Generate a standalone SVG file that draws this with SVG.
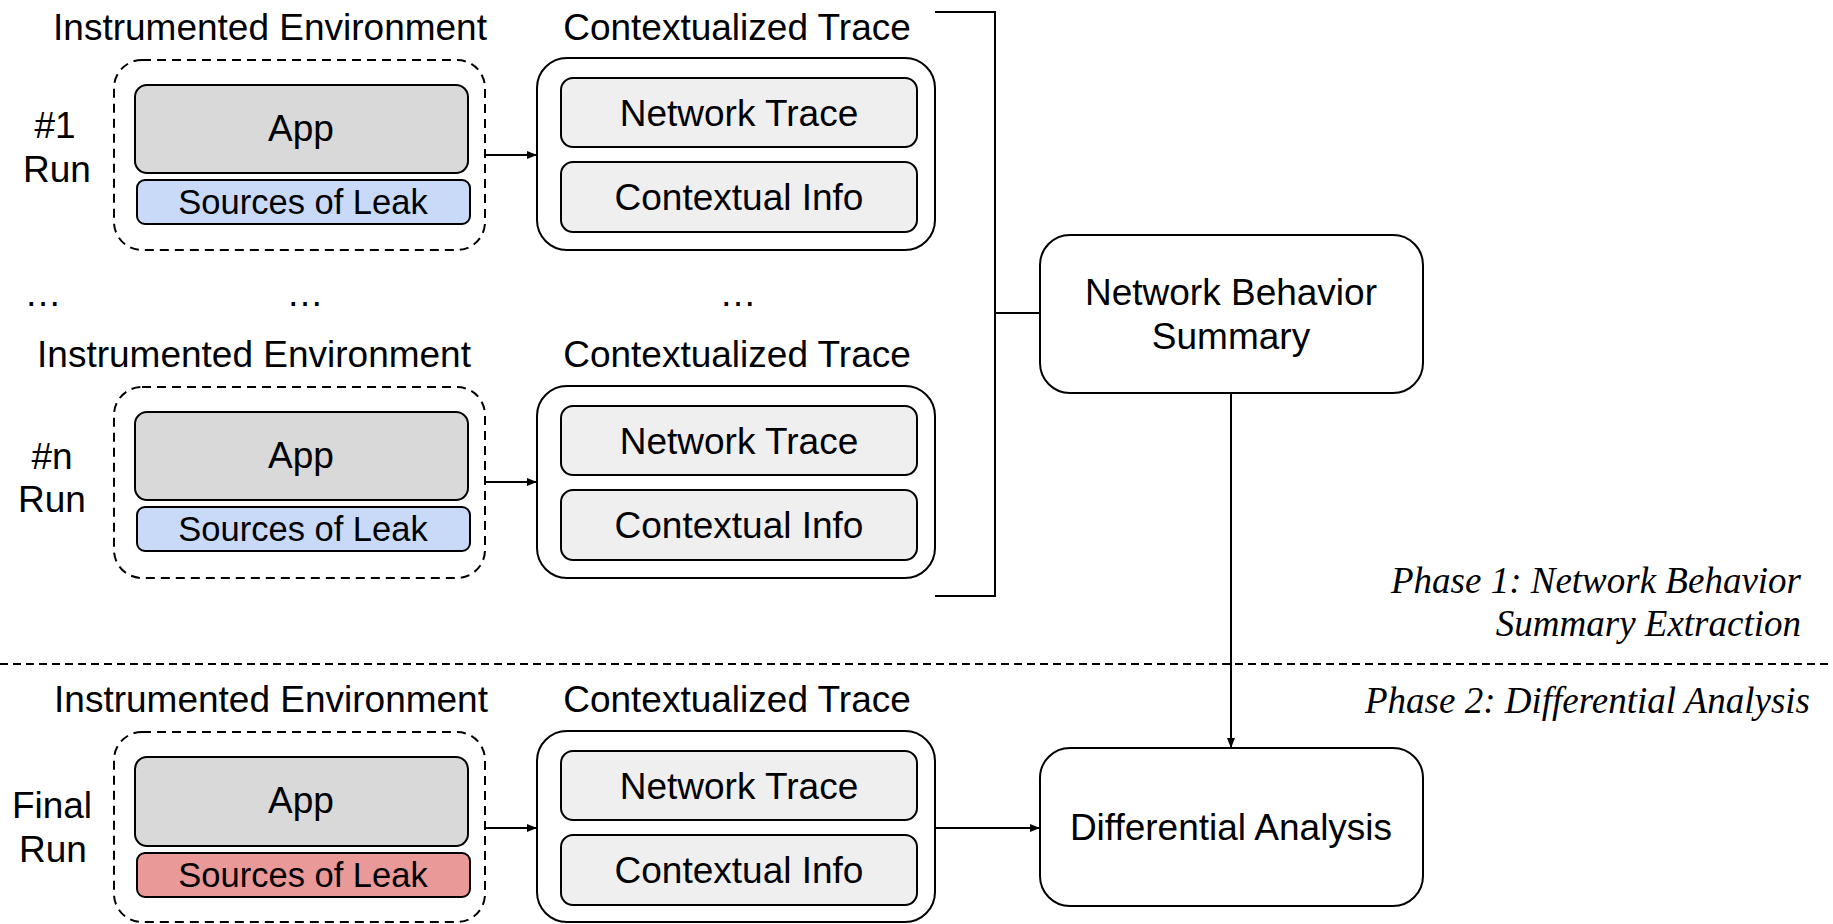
<svg xmlns="http://www.w3.org/2000/svg" width="1833" height="924" viewBox="0 0 1833 924">
<defs>
<marker id="arr" viewBox="0 0 10 10" refX="10" refY="5" markerWidth="10" markerHeight="10" markerUnits="userSpaceOnUse" orient="auto">
<path d="M0,1 L10,5 L0,9 Z" fill="#000"/>
</marker>
</defs>
<style>
text{font-family:"Liberation Sans",Arial,sans-serif;font-size:37px;fill:#000;text-anchor:middle}
.env{fill:none;stroke:#000;stroke-width:2;stroke-dasharray:9 6}
.app{fill:#d9d9d9;stroke:#000;stroke-width:2}
.srcb{fill:#c9daf8;stroke:#000;stroke-width:2}
.srcr{fill:#ea9999;stroke:#000;stroke-width:2}
.ctx{fill:#fff;stroke:#000;stroke-width:2}
.item{fill:#efefef;stroke:#000;stroke-width:2}
.box{fill:#fff;stroke:#000;stroke-width:2}
.src{font-size:34.5px}
.phase{font-family:"Liberation Serif","Times New Roman",serif;font-style:italic;text-anchor:end}
.conn{fill:none;stroke:#000;stroke-width:2}
</style>
<rect width="1833" height="924" fill="#fff"/>

<g id="run1">
<text x="55" y="138">#1</text>
<text x="57" y="182">Run</text>
</g>
<g id="env1">
<text x="270" y="40">Instrumented Environment</text>
<rect class="env" x="114" y="60" width="371" height="190" rx="28"/>
<rect class="app" x="135" y="85" width="333" height="88" rx="12"/>
<text x="301" y="141">App</text>
<rect class="srcb" x="137" y="180" width="333" height="44" rx="8"/>
<text class="src" x="303" y="214">Sources of Leak</text>
</g>
<g id="ctx1">
<text x="737" y="40">Contextualized Trace</text>
<rect class="ctx" x="537" y="58" width="398" height="192" rx="30"/>
<rect class="item" x="561" y="78" width="356" height="69" rx="12"/>
<text x="739" y="126">Network Trace</text>
<rect class="item" x="561" y="162" width="356" height="70" rx="12"/>
<text x="739" y="210">Contextual Info</text>
</g>

<g id="dots">
<text x="43" y="306">…</text>
<text x="305" y="306">…</text>
<text x="738" y="306">…</text>
</g>

<g id="runn">
<text x="52" y="469">#n</text>
<text x="52" y="512">Run</text>
</g>
<g id="envn">
<text x="254" y="367">Instrumented Environment</text>
<rect class="env" x="114" y="387" width="371" height="191" rx="28"/>
<rect class="app" x="135" y="412" width="333" height="88" rx="12"/>
<text x="301" y="468">App</text>
<rect class="srcb" x="137" y="507" width="333" height="44" rx="8"/>
<text class="src" x="303" y="541">Sources of Leak</text>
</g>
<g id="ctxn">
<text x="737" y="367">Contextualized Trace</text>
<rect class="ctx" x="537" y="386" width="398" height="192" rx="30"/>
<rect class="item" x="561" y="406" width="356" height="69" rx="12"/>
<text x="739" y="454">Network Trace</text>
<rect class="item" x="561" y="490" width="356" height="70" rx="12"/>
<text x="739" y="538">Contextual Info</text>
</g>

<g id="nbs">
<rect class="box" x="1040" y="235" width="383" height="158" rx="30"/>
<text x="1231" y="305">Network Behavior</text>
<text x="1231" y="349">Summary</text>
</g>

<g id="divider">
<line x1="0" y1="664" x2="1833" y2="664" stroke="#000" stroke-width="2" stroke-dasharray="8 5"/>
<text class="phase" x="1801" y="593">Phase 1: Network Behavior</text>
<text class="phase" x="1801" y="636">Summary Extraction</text>
<text class="phase" x="1810" y="713">Phase 2: Differential Analysis</text>
</g>

<g id="runf">
<text x="52" y="818">Final</text>
<text x="53" y="862">Run</text>
</g>
<g id="envf">
<text x="271" y="712">Instrumented Environment</text>
<rect class="env" x="114" y="732" width="371" height="190" rx="28"/>
<rect class="app" x="135" y="757" width="333" height="89" rx="12"/>
<text x="301" y="813">App</text>
<rect class="srcr" x="137" y="853" width="333" height="44" rx="8"/>
<text class="src" x="303" y="887">Sources of Leak</text>
</g>
<g id="ctxf">
<text x="737" y="712">Contextualized Trace</text>
<rect class="ctx" x="537" y="731" width="398" height="191" rx="30"/>
<rect class="item" x="561" y="751" width="356" height="69" rx="12"/>
<text x="739" y="799">Network Trace</text>
<rect class="item" x="561" y="835" width="356" height="70" rx="12"/>
<text x="739" y="883">Contextual Info</text>
</g>

<g id="diff">
<rect class="box" x="1040" y="748" width="383" height="158" rx="30"/>
<text x="1231" y="840">Differential Analysis</text>
</g>

<g id="connectors">
<line class="conn" x1="486" y1="155" x2="537" y2="155" marker-end="url(#arr)"/>
<line class="conn" x1="486" y1="482" x2="537" y2="482" marker-end="url(#arr)"/>
<line class="conn" x1="486" y1="828" x2="537" y2="828" marker-end="url(#arr)"/>
<path class="conn" d="M935,12 H995 V596 H935"/>
<line class="conn" x1="995" y1="313" x2="1040" y2="313"/>
<line class="conn" x1="1231" y1="393" x2="1231" y2="748" marker-end="url(#arr)"/>
<line class="conn" x1="935" y1="828" x2="1040" y2="828" marker-end="url(#arr)"/>
</g>
</svg>
